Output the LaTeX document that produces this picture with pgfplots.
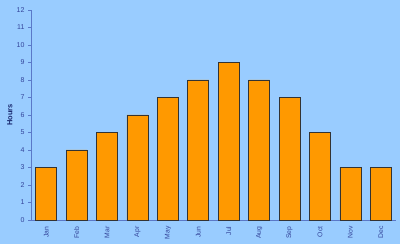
\documentclass[border=0pt]{standalone}
\usepackage{pgfplots}
\pgfplotsset{compat=1.18}
\usepackage{fontspec}
\setmainfont{Liberation Sans}
\definecolor{bgblue}{HTML}{99CCFF}
\definecolor{barorange}{HTML}{FF9900}
\definecolor{axisblue}{HTML}{5A78C8}
\definecolor{ticktext}{HTML}{33449A}
\definecolor{navy}{HTML}{1A2A70}
\begin{document}
\begin{tikzpicture}[x=1pt,y=1pt]
\path[use as bounding box, fill=bgblue] (0,0) rectangle (400,244);
\begin{axis}[
  at={(31pt,24pt)}, anchor=south west,
  scale only axis, width=365pt, height=210pt,
  /pgf/number format/assume math mode=true,
  ymin=0, ymax=12, ytick={0,1,...,12},
  xmin=-0.5, xmax=11.5,
  axis x line*=bottom, axis y line*=left,
  axis line style={axisblue, line width=0.6pt},
  xtick={0,...,11},
  xticklabels={Jan,Feb,Mar,Apr,May,Jun,Jul,Aug,Sep,Oct,Nov,Dec},
  xticklabel style={rotate=90, anchor=east, font=\fontsize{6.8}{7}\selectfont, text=ticktext},
  yticklabel style={font=\fontsize{7}{8}\selectfont, text=ticktext},
  major x tick style={draw=none},
  extra x ticks={-0.5,0.5,...,11.5},
  extra x tick labels={},
  extra x tick style={tick style={axisblue, line width=0.5pt}, tickwidth=3pt, tick align=outside},
  ytick style={axisblue, line width=0.5pt},
  tick align=outside, tickwidth=3pt,
  ylabel={\textbf{Hours}},
  ylabel style={font=\fontsize{7.5}{8}\selectfont, text=navy, at={(axis description cs:-0.058,0.5)}, anchor=center},
  ybar, bar width=21pt,
  axis background/.style={fill=bgblue},
  clip=false,
]
\addplot[fill=barorange, draw=black!80, line width=0.6pt] coordinates {
(0,3) (1,4) (2,5) (3,6) (4,7) (5,8) (6,9) (7,8) (8,7) (9,5) (10,3) (11,3)
};
\end{axis}
\end{tikzpicture}
\end{document}
